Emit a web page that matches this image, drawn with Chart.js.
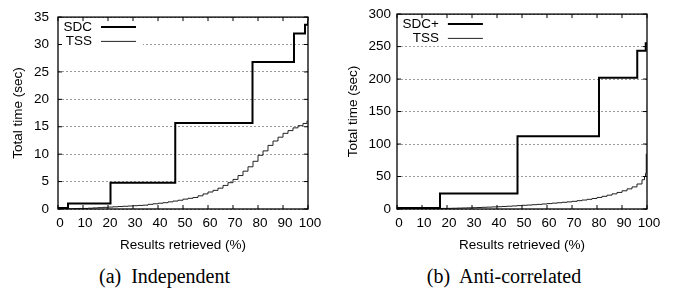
<!DOCTYPE html>
<html>
<head>
<meta charset="utf-8">
<script src="https://cdn.jsdelivr.net/npm/chart.js@4.4.0/dist/chart.umd.min.js"></script>
<style>
  html, body { margin: 0; padding: 0; background: #fff; }
  #page { position: relative; width: 684px; height: 295px; overflow: hidden; }
  .panel { position: absolute; top: 0; width: 342px; height: 260px; }
  .caption {
    position: absolute; top: 266px; color: #000;
    font: 20px "Liberation Serif", "Times New Roman", serif; line-height: 20px;
    white-space: pre; transform: translateX(-50%);
  }
</style>
</head>
<body>
<div id="page">
  <div class="panel" style="left:0"><canvas id="chartA"></canvas></div>
  <div class="panel" style="left:342px"><canvas id="chartB"></canvas></div>
  <div class="caption" style="left:164.5px">(a)  Independent</div>
  <div class="caption" style="left:504px">(b)  Anti-correlated</div>
</div>
<script>
// ---- Data ----------------------------------------------------------------
const xTicks = [0, 10, 20, 30, 40, 50, 60, 70, 80, 90, 100];
const yTicksA = [0, 5, 10, 15, 20, 25, 30, 35];
const yTicksB = [0, 50, 100, 150, 200, 250, 300];

// (a) Independent
const sdcX = [0, 4, 21, 46.9, 77.8, 94.4, 98.8, 100];
const sdcY = [0.2, 1, 4.8, 15.7, 26.8, 32, 33.6, 34.3];

const tssAX = [0, 2, 4, 6, 8, 10, 12, 14, 16, 18, 20, 22, 24, 26, 28, 30, 32, 34, 36, 38, 40,
  42, 44, 46, 48, 50, 52, 54, 56, 58, 60, 62, 64, 66, 68, 70, 72, 74, 76, 78, 80,
  82, 84, 86, 88, 90, 92, 94, 96, 98, 99.6];
const tssAY = [0.05, 0.05, 0.05, 0.08, 0.1, 0.1, 0.15, 0.2, 0.25, 0.3, 0.35, 0.4, 0.45, 0.5, 0.55, 0.6, 0.65, 0.7, 0.85, 0.95, 1.05,
  1.15, 1.3, 1.45, 1.6, 1.8, 1.95, 2.1, 2.4, 2.75, 3.1, 3.4, 3.8, 4.3, 4.8, 5.4, 6.1, 6.9, 7.7, 8.7, 9.8,
  10.6, 11.6, 12.4, 13.1, 13.8, 14.3, 14.8, 15.2, 15.6, 16.1];

// (b) Anti-correlated
const sdcPlusX = [0, 17.2, 48.2, 80.8, 96.1, 99.5, 100];
const sdcPlusY = [1.5, 24, 112, 202, 243.5, 255, 256];

const tssBX = [0, 2, 4, 6, 8, 10, 12, 14, 16, 18, 20, 22, 24, 26, 28, 30, 32, 34, 36, 38, 40,
  42, 44, 46, 48, 50, 52, 54, 56, 58, 60, 62, 64, 66, 68, 70, 72, 74, 76, 78, 80,
  82, 84, 86, 88, 90, 92, 94, 96, 98, 99, 99.4, 99.7];
const tssBY = [0, 0.1, 0.2, 0.3, 0.4, 0.5, 0.6, 0.7, 0.8, 0.9, 1, 1.2, 1.4, 1.6, 1.8, 2, 2.3, 2.6, 2.9, 3.2, 3.5,
  3.9, 4.3, 4.7, 5.2, 5.7, 6.1, 6.6, 7.1, 7.7, 8.3, 9, 9.6, 10.3, 11, 11.8, 12.8, 13.8, 14.9, 16.2, 17.8,
  19.5, 21.3, 23.3, 25.5, 28, 31, 34, 38.5, 45, 50, 55, 85];

// ---- Helpers -------------------------------------------------------------
const FONT = '"Liberation Sans", Arial, Helvetica, sans-serif';
Chart.defaults.font.family = FONT;
Chart.defaults.font.size = 13.5;
Chart.defaults.color = '#000';

const pts = (xs, ys) => xs.map((x, i) => ({ x, y: ys[i] }));

function keyLayout(chart) {
  const { ctx, chartArea: a } = chart;
  ctx.save();
  ctx.font = '13.5px ' + FONT;
  const maxW = Math.max(...chart.data.datasets.map((d) => ctx.measureText(d.label).width));
  ctx.restore();
  const textRight = a.left + 5.5 + maxW;
  return { textRight, sampleStart: textRight + 9, sampleEnd: textRight + 44 };
}

// gnuplot-ish frame: border, inward mirrored ticks, opaque key
const gnuplotFrame = {
  id: 'gnuplotFrame',
  beforeDatasetsDraw(chart) {
    const { ctx, chartArea: a } = chart;
    const k = keyLayout(chart);
    ctx.save();
    ctx.fillStyle = '#fff';
    ctx.fillRect(a.left + 1, a.top + 1, k.sampleEnd + 7 - a.left - 1, 31);
    ctx.restore();
  },
  afterDatasetsDraw(chart) {
    const { ctx, chartArea: a, scales } = chart;
    ctx.save();
    ctx.strokeStyle = '#000';
    ctx.lineWidth = 1;
    ctx.beginPath();
    scales.x.ticks.forEach((t) => {
      const px = scales.x.getPixelForValue(t.value);
      ctx.moveTo(px, a.bottom); ctx.lineTo(px, a.bottom - 4);
      ctx.moveTo(px, a.top); ctx.lineTo(px, a.top + 4);
    });
    scales.y.ticks.forEach((t) => {
      const py = scales.y.getPixelForValue(t.value);
      ctx.moveTo(a.left, py); ctx.lineTo(a.left + 4, py);
      ctx.moveTo(a.right, py); ctx.lineTo(a.right - 4, py);
    });
    ctx.stroke();
    ctx.lineWidth = 1.3;
    ctx.strokeRect(a.left, a.top, a.right - a.left, a.bottom - a.top);

    // key
    const k = keyLayout(chart);
    ctx.font = '13.5px ' + FONT;
    ctx.textAlign = 'right';
    ctx.textBaseline = 'middle';
    chart.data.datasets.forEach((d, i) => {
      const y = a.top + 10 + i * 14.3;
      ctx.fillStyle = '#000';
      ctx.fillText(d.label, k.textRight, y);
      ctx.beginPath();
      ctx.strokeStyle = d.borderColor;
      ctx.lineWidth = d.borderWidth;
      ctx.moveTo(k.sampleStart, y);
      ctx.lineTo(k.sampleEnd, y);
      ctx.stroke();
    });
    ctx.restore();
  },
};

function makeChart(id, o) {
  return new Chart(document.getElementById(id), {
    type: 'line',
    data: {
      datasets: [
        { label: o.names[0], data: pts(o.sx, o.sy), borderColor: '#000', borderWidth: 2,
          stepped: 'before', pointRadius: 0, fill: false },
        { label: o.names[1], data: pts(o.tx, o.ty), borderColor: '#222', borderWidth: 1,
          stepped: 'before', pointRadius: 0, fill: false },
      ],
    },
    options: {
      responsive: true,
      maintainAspectRatio: false,
      animation: false,
      layout: { padding: { left: 0, right: o.padRight, top: 5, bottom: 3 } },
      plugins: { legend: { display: false }, tooltip: { enabled: false } },
      scales: {
        x: {
          type: 'linear', min: 0, max: 100,
          afterBuildTicks: (s) => { s.ticks = xTicks.map((v) => ({ value: v })); },
          afterFit: (s) => { s.height = 48; },
          grid: { display: false, drawTicks: false },
          border: { display: false },
          ticks: { padding: 6, labelOffset: 2, maxRotation: 0, autoSkip: false },
          title: { display: true, text: 'Results retrieved (%)', padding: { top: 0, bottom: 4 } },
        },
        y: {
          type: 'linear', min: 0, max: o.yMax,
          afterBuildTicks: (s) => { s.ticks = o.yTicks.map((v) => ({ value: v })); },
          afterFit: (s) => { s.width = o.plotLeft; },
          grid: { color: '#9a9a9a', lineWidth: 1, drawTicks: false },
          border: { display: false, dash: [2, 2] },
          ticks: { padding: o.yLabelPad, autoSkip: false },
          title: { display: true, text: 'Total time (sec)', padding: { top: o.yTitlePad, bottom: 0 } },
        },
      },
    },
    plugins: [gnuplotFrame],
  });
}

makeChart('chartA', {
  names: ['SDC', 'TSS'], sx: sdcX, sy: sdcY, tx: tssAX, ty: tssAY,
  yMax: 35, yTicks: yTicksA, plotLeft: 58, padRight: 34, yLabelPad: 9, yTitlePad: 10,
});
makeChart('chartB', {
  names: ['SDC+', 'TSS'], sx: sdcPlusX, sy: sdcPlusY, tx: tssBX, ty: tssBY,
  yMax: 300, yTicks: yTicksB, plotLeft: 55, padRight: 37, yLabelPad: 6, yTitlePad: 3.6,
});
</script>
</body>
</html>
